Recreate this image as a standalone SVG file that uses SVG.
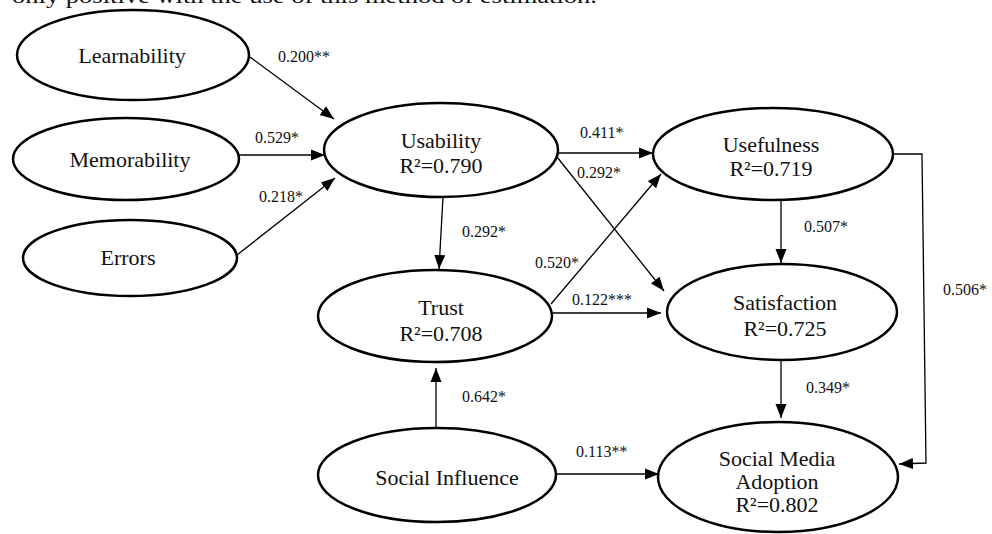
<svg xmlns="http://www.w3.org/2000/svg" width="992" height="534" viewBox="0 0 992 534">
<defs>
<marker id="arr" markerUnits="userSpaceOnUse" markerWidth="15" markerHeight="12" refX="14" refY="6" orient="auto">
<path d="M0,0.5 L14,6 L0,11.5 z" fill="#000"/>
</marker>
<style>
.node ellipse{fill:#fff;stroke:#000;stroke-width:2.5}
.node text{font-family:"Liberation Serif","Times New Roman",serif;font-size:22px;fill:#111;text-anchor:middle}
.edge{fill:none;stroke:#000;stroke-width:1.3;marker-end:url(#arr)}
.lbl{font-family:"Liberation Serif","Times New Roman",serif;font-size:16px;fill:#111}
.top{font-family:"Liberation Serif","Times New Roman",serif;font-size:21px;fill:#111}
</style>
</defs>
<rect width="992" height="534" fill="#fff"/>
<text class="top" x="12" y="3" textLength="585" lengthAdjust="spacingAndGlyphs">only positive with the use of this method of estimation.</text>
<g id="connectors">
<line class="edge" x1="250" y1="57" x2="334" y2="119"/>
<line class="edge" x1="239" y1="155" x2="325" y2="155"/>
<line class="edge" x1="237" y1="255" x2="335" y2="178"/>
<line class="edge" x1="558" y1="153" x2="653" y2="153"/>
<line class="edge" x1="557" y1="157" x2="664" y2="291"/>
<line class="edge" x1="443" y1="197" x2="439" y2="269"/>
<line class="edge" x1="551" y1="304" x2="661" y2="174"/>
<line class="edge" x1="552" y1="313" x2="661" y2="313"/>
<line class="edge" x1="781" y1="200" x2="781" y2="263"/>
<line class="edge" x1="781" y1="360" x2="781" y2="418"/>
<line class="edge" x1="436" y1="428" x2="436" y2="368"/>
<line class="edge" x1="557" y1="474" x2="659" y2="474"/>
<polyline class="edge" points="894,154 922,154 926,463 899,464"/>
<text class="lbl" x="278" y="62">0.200**</text>
<text class="lbl" x="255" y="143">0.529*</text>
<text class="lbl" x="259" y="202">0.218*</text>
<text class="lbl" x="580" y="138">0.411*</text>
<text class="lbl" x="577" y="178">0.292*</text>
<text class="lbl" x="462" y="237">0.292*</text>
<text class="lbl" x="535" y="268">0.520*</text>
<text class="lbl" x="572" y="305">0.122***</text>
<text class="lbl" x="804" y="232">0.507*</text>
<text class="lbl" x="943" y="295">0.506*</text>
<text class="lbl" x="462" y="402">0.642*</text>
<text class="lbl" x="576" y="457">0.113**</text>
<text class="lbl" x="806" y="393">0.349*</text>
</g>
<g id="learnability" class="node"><ellipse cx="133" cy="55" rx="116" ry="45"/><text x="132" y="63">Learnability</text></g>
<g id="memorability" class="node"><ellipse cx="126" cy="159" rx="113" ry="41"/><text x="130" y="167">Memorability</text></g>
<g id="errors" class="node"><ellipse cx="130" cy="258" rx="107" ry="38"/><text x="128" y="265">Errors</text></g>
<g id="usability" class="node"><ellipse cx="441" cy="150" rx="117" ry="47"/><text x="441" y="148">Usability</text><text x="441" y="173">R²=0.790</text></g>
<g id="usefulness" class="node"><ellipse cx="773" cy="154" rx="120" ry="46"/><text x="771" y="152">Usefulness</text><text x="771" y="176">R²=0.719</text></g>
<g id="trust" class="node"><ellipse cx="435" cy="316" rx="117" ry="46"/><text x="441" y="315">Trust</text><text x="441" y="341">R²=0.708</text></g>
<g id="satisfaction" class="node"><ellipse cx="782" cy="312" rx="115" ry="48"/><text x="785" y="310">Satisfaction</text><text x="785" y="336">R²=0.725</text></g>
<g id="social-influence" class="node"><ellipse cx="437" cy="475" rx="119" ry="47"/><text x="447" y="485">Social Influence</text></g>
<g id="social-media-adoption" class="node"><ellipse cx="778" cy="477" rx="120" ry="55"/><text x="777" y="466">Social Media</text><text x="777" y="489">Adoption</text><text x="777" y="512">R²=0.802</text></g>
</svg>
